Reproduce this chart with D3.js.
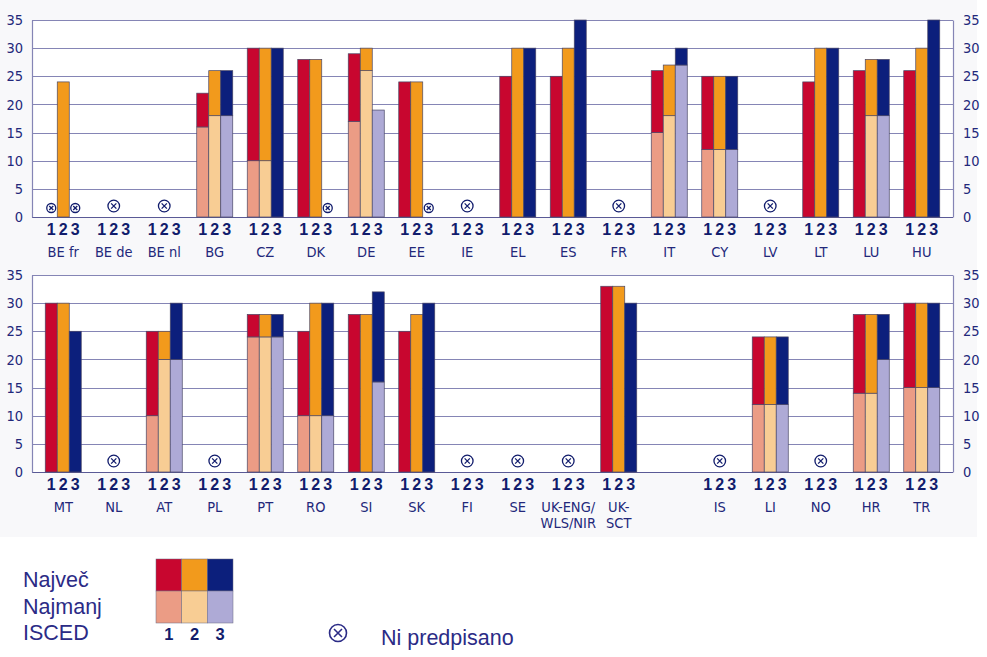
<!DOCTYPE html>
<html>
<head>
<meta charset="utf-8">
<script src="https://cdn.jsdelivr.net/npm/d3@7"></script>
<style>
  html, body { margin: 0; padding: 0; background: #ffffff; }
  svg { display: block; }
</style>
</head>
<body>
<svg id="chart" width="987" height="657"></svg>
<script>
// ---------------- DATA ----------------
const yTicks = [0, 5, 10, 15, 20, 25, 30, 35];
const levels = [1, 2, 3];

// Top panel
const topCountries = ["BE fr","BE de","BE nl","BG","CZ","DK","DE","EE","IE","EL","ES","FR","IT","CY","LV","LT","LU","HU"];
const topMax1 = [null,null,null,22,30,28,29,24,null,25,25,null,26,25,null,24,26,26];
const topMax2 = [24,null,null,26,30,28,30,24,null,30,30,null,27,25,null,30,28,30];
const topMax3 = [null,null,null,26,30,null,null,null,null,30,35,null,30,25,null,30,28,35];
const topMin1 = [null,null,null,16,10,null,17,null,null,null,null,null,15,12,null,null,null,null];
const topMin2 = [null,null,null,18,10,null,26,null,null,null,null,null,18,12,null,null,18,null];
const topMin3 = [null,null,null,18,null,null,19,null,null,null,null,null,27,12,null,null,18,null];
const topNotPrescribed = [[1,3],[1,2,3],[1,2,3],[],[],[3],[],[3],[1,2,3],[],[],[1,2,3],[],[],[1,2,3],[],[],[]];

// Bottom panel ("" = empty slot)
const bottomCountries = ["MT","NL","AT","PL","PT","RO","SI","SK","FI","SE","UK-ENG/\nWLS/NIR","UK-\nSCT","","IS","LI","NO","HR","TR"];
const bottomMax1 = [30,null,25,null,28,25,28,25,null,null,null,33,null,null,24,null,28,30];
const bottomMax2 = [30,null,25,null,28,30,28,28,null,null,null,33,null,null,24,null,28,30];
const bottomMax3 = [25,null,30,null,28,30,32,30,null,null,null,30,null,null,24,null,28,30];
const bottomMin1 = [null,null,10,null,24,10,null,null,null,null,null,null,null,null,12,null,14,15];
const bottomMin2 = [null,null,20,null,24,10,null,null,null,null,null,null,null,null,12,null,14,15];
const bottomMin3 = [null,null,20,null,24,10,16,null,null,null,null,null,null,null,12,null,20,15];
const bottomNotPrescribed = [[],[1,2,3],[],[1,2,3],[],[],[],[],[1,2,3],[1,2,3],[1,2,3],[],[],[1,2,3],[],[1,2,3],[],[]];

const legendRows = ["Največ", "Najmanj", "ISCED"];
const legendNote = "Ni predpisano";

// ---------------- STYLE ----------------
const maxColors = {1: "#c8062f", 2: "#f29a1c", 3: "#0c1f7c"};
const minColors = {1: "#eb9c85", 2: "#f8cd94", 3: "#aeaad6"};
const gridColor = "#8585b5";
const textColor = "#23287a";
const digitColor = "#111c6c";
const narrowFont = "'Liberation Sans Narrow', 'DejaVu Sans Condensed', 'Liberation Sans', sans-serif";

const svg = d3.select("#chart");

// panel background
svg.append("rect").attr("x", 0).attr("y", 0).attr("width", 977).attr("height", 537)
  .attr("fill", "#f8f8fa");

const xLeft = 32, xRight = 953;
const x = d3.scaleBand().domain(d3.range(18)).range([38, 947]).paddingInner(0).paddingOuter(0);
const xi = d3.scaleBand().domain(levels).range([-18, 18]).padding(0);

function drawPanel(cfg) {
  const y = d3.scaleLinear().domain([0, 35]).range([cfg.y0, cfg.y35]);
  const g = svg.append("g");

  g.append("rect").attr("x", xLeft).attr("y", y(35)).attr("width", xRight - xLeft)
    .attr("height", y(0) - y(35)).attr("fill", "#ffffff");

  // gridlines
  g.append("g").selectAll("line").data(yTicks).join("line")
    .attr("x1", xLeft).attr("x2", xRight)
    .attr("y1", d => Math.round(y(d)) + 0.5).attr("y2", d => Math.round(y(d)) + 0.5)
    .attr("stroke", d => d === 0 ? "#5a5a96" : gridColor).attr("stroke-width", 1);

  // side axes
  const axisL = d3.axisLeft(y).tickValues(yTicks).tickSize(0).tickPadding(9);
  const axisR = d3.axisRight(y).tickValues(yTicks).tickSize(0).tickPadding(10);
  const gl = g.append("g").attr("transform", `translate(${xLeft},0)`).call(axisL);
  const gr = g.append("g").attr("transform", `translate(${xRight},0)`).call(axisR);
  [gl, gr].forEach(a => {
    a.select(".domain").attr("stroke", gridColor).attr("stroke-width", 1.2);
    a.selectAll("text").attr("fill", textColor).attr("font-family", narrowFont)
      .attr("font-size", 14.5);
  });

  // bars
  const bars = [];
  cfg.countries.forEach((c, i) => {
    levels.forEach(l => {
      const mx = cfg.max[l][i], mn = cfg.min[l][i];
      const bx = x(i) + x.bandwidth() / 2 + xi(l);
      if (mn != null) bars.push({x: bx, y1: 0, y2: mn, color: minColors[l]});
      if (mx != null) bars.push({x: bx, y1: mn != null ? mn : 0, y2: mx, color: maxColors[l]});
    });
  });
  g.append("g").selectAll("rect").data(bars).join("rect")
    .attr("x", d => d.x).attr("width", xi.bandwidth())
    .attr("y", d => y(d.y2)).attr("height", d => y(d.y1) - y(d.y2))
    .attr("fill", d => d.color)
    .attr("stroke", "#4a4868").attr("stroke-width", 0.7);

  // not-prescribed symbols
  const np = [];
  cfg.np.forEach((arr, i) => {
    const cx = x(i) + x.bandwidth() / 2;
    if (arr.length === 3) np.push({x: cx, r: 5.8, y: y(0) - 11});
    else arr.forEach(l => np.push({x: cx + xi(l) + xi.bandwidth() / 2, r: 4.5, y: y(0) - 9}));
  });
  const ng = g.append("g").selectAll("g").data(np).join("g")
    .attr("transform", d => `translate(${d.x},${d.y})`);
  ng.append("circle").attr("r", d => d.r).attr("fill", "none").attr("stroke", digitColor).attr("stroke-width", 1.3);
  ng.append("path").attr("d", d => {
    const k = d.r * 0.45;
    return `M${-k},${-k}L${k},${k}M${-k},${k}L${k},${-k}`;
  }).attr("stroke", digitColor).attr("stroke-width", 1.3);

  // level digits
  const digits = [];
  cfg.countries.forEach((c, i) => {
    if (c === "") return;
    levels.forEach(l => digits.push({x: x(i) + x.bandwidth() / 2 + xi(l) + xi.bandwidth() / 2, t: String(l)}));
  });
  g.append("g").selectAll("text").data(digits).join("text")
    .attr("x", d => d.x).attr("y", y(0) + 17.5)
    .attr("text-anchor", "middle").attr("font-family", "'Liberation Sans', Arial, sans-serif")
    .attr("font-weight", "bold").attr("font-size", 16).attr("fill", digitColor)
    .text(d => d.t);

  // country labels
  const lab = g.append("g").selectAll("text").data(cfg.countries.map((c, i) => ({c, i})).filter(d => d.c !== ""))
    .join("text")
    .attr("x", d => x(d.i) + x.bandwidth() / 2)
    .attr("y", y(0) + 40)
    .attr("text-anchor", "middle").attr("font-family", narrowFont)
    .attr("font-size", 14.5).attr("fill", textColor);
  lab.selectAll("tspan").data(d => d.c.split("\n").map((t, k) => ({t, k, x: x(d.i) + x.bandwidth() / 2})))
    .join("tspan").attr("x", d => d.x).attr("dy", d => d.k === 0 ? 0 : 15.5).text(d => d.t);
}

drawPanel({
  y0: 217, y35: 20, countries: topCountries,
  max: {1: topMax1, 2: topMax2, 3: topMax3},
  min: {1: topMin1, 2: topMin2, 3: topMin3},
  np: topNotPrescribed
});
drawPanel({
  y0: 472, y35: 275, countries: bottomCountries,
  max: {1: bottomMax1, 2: bottomMax2, 3: bottomMax3},
  min: {1: bottomMin1, 2: bottomMin2, 3: bottomMin3},
  np: bottomNotPrescribed
});

// ---------------- LEGEND ----------------
const lg = svg.append("g");
lg.selectAll("text.row").data(legendRows).join("text").attr("class", "row")
  .attr("x", 23).attr("y", (d, i) => 587 + i * 26.5)
  .attr("font-family", "'Liberation Sans', Arial, sans-serif").attr("font-size", 21.5)
  .attr("fill", "#2b2b86").text(d => d);

const lx = d3.scaleBand().domain(levels).range([156, 233]);
const sw = [];
levels.forEach(l => {
  sw.push({l, y: 559, h: 32, color: maxColors[l]});
  sw.push({l, y: 591, h: 32, color: minColors[l]});
});
lg.selectAll("rect").data(sw).join("rect")
  .attr("x", d => lx(d.l)).attr("y", d => d.y).attr("width", lx.bandwidth()).attr("height", d => d.h)
  .attr("fill", d => d.color).attr("stroke", "#6a6880").attr("stroke-width", 0.5);
lg.selectAll("text.dig").data(levels).join("text").attr("class", "dig")
  .attr("x", d => lx(d) + lx.bandwidth() / 2).attr("y", 640)
  .attr("text-anchor", "middle").attr("font-family", "'Liberation Sans', Arial, sans-serif")
  .attr("font-weight", "bold").attr("font-size", 16.5).attr("fill", digitColor).text(d => d);

const sym = lg.append("g").attr("transform", "translate(338,633)");
sym.append("circle").attr("r", 8.5).attr("fill", "none").attr("stroke", "#2b2b86").attr("stroke-width", 1.6);
sym.append("path").attr("d", "M-4,-4L4,4M-4,4L4,-4").attr("stroke", "#2b2b86").attr("stroke-width", 1.6);
lg.append("text").attr("x", 381).attr("y", 645)
  .attr("font-family", "'Liberation Sans', Arial, sans-serif").attr("font-size", 21.5)
  .attr("fill", "#2b2b86").text(legendNote);
</script>
</body>
</html>
